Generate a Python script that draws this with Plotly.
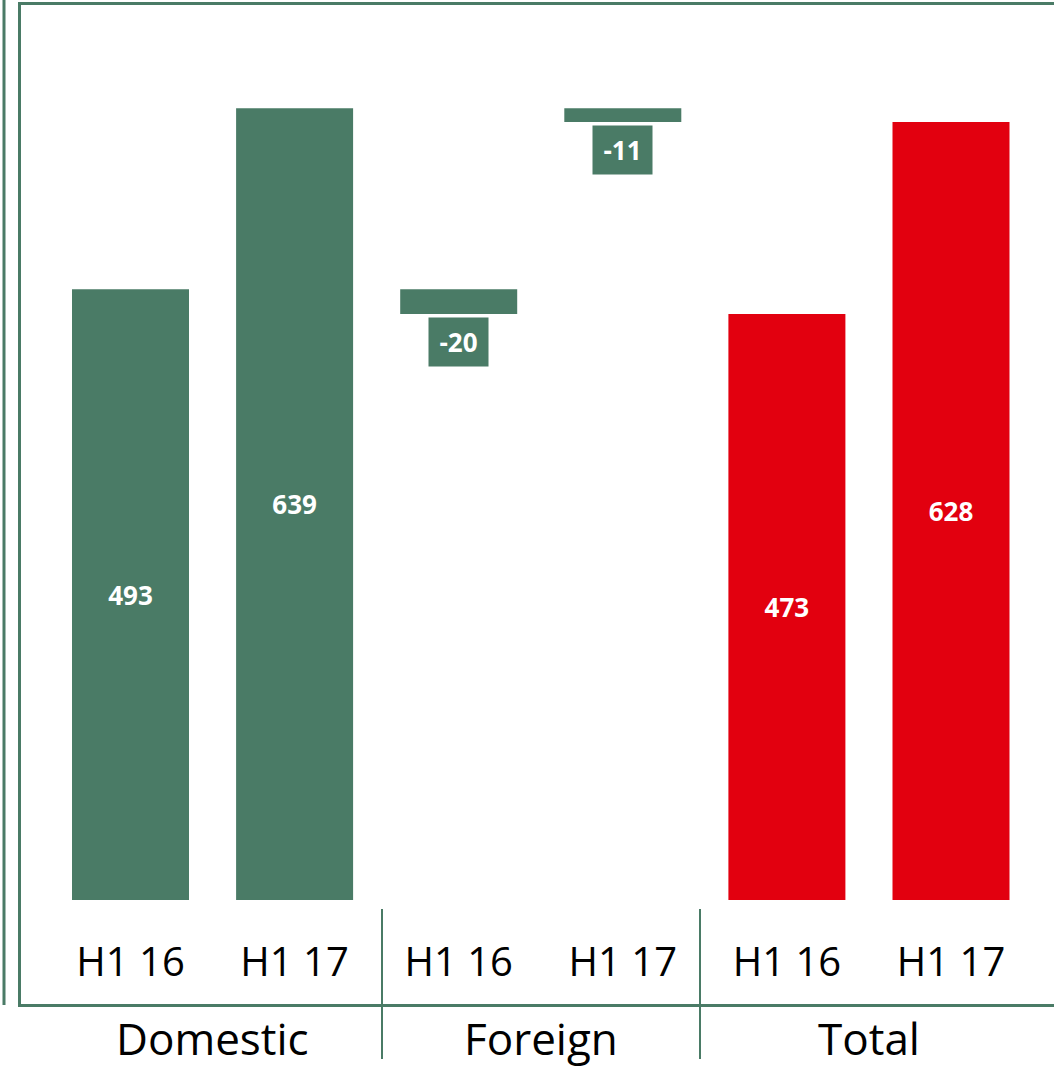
import plotly.graph_objects as go

# ---- data ----
groups = ["Domestic", "Foreign", "Total"]
periods = ["H1 16", "H1 17"]
domestic = [493, 639]
foreign = [-20, -11]
total = [473, 628]

GREEN = "#4A7B66"
RED = "#E2000F"
FONT = "Open Sans"

W, H = 1054, 1070
PLOT_BOTTOM = 900  # pixel row of the baseline

x_dom = [0, 1]
x_for = [2, 3]
x_tot = [4, 5]

fig = go.Figure()

fig.add_trace(go.Bar(
    x=x_dom, y=domestic, base=[0, 0], width=0.713,
    marker=dict(color=GREEN, line=dict(width=0)),
    text=[str(v) for v in domestic], textposition="inside",
    insidetextanchor="middle", constraintext="none",
    textfont=dict(family=FONT, size=26, color="white", weight="bold"),
    showlegend=False, hoverinfo="skip"))

fig.add_trace(go.Bar(
    x=x_for, y=foreign, base=domestic, width=0.713,
    marker=dict(color=GREEN, line=dict(width=0)),
    showlegend=False, hoverinfo="skip"))

fig.add_trace(go.Bar(
    x=x_tot, y=total, base=[0, 0], width=0.713,
    marker=dict(color=RED, line=dict(width=0)),
    text=[str(v) for v in total], textposition="inside",
    insidetextanchor="middle", constraintext="none",
    textfont=dict(family=FONT, size=26, color="white", weight="bold"),
    showlegend=False, hoverinfo="skip"))

annotations = []
for xi, d, f in zip(x_for, domestic, foreign):
    annotations.append(dict(
        x=xi, y=d + f, xref="x", yref="y", yanchor="top", xanchor="center",
        yshift=-3, text=f"<b>{f}</b>", showarrow=False,
        bgcolor=GREEN, width=51, height=40, borderpad=4,
        font=dict(family=FONT, size=26, color="white")))

def py(p):
    return (PLOT_BOTTOM - p) / PLOT_BOTTOM

for i, g in enumerate(groups):
    annotations.append(dict(
        x=2 * i + 0.5, y=py(1069), xref="x", yref="paper",
        xanchor="center", yanchor="bottom", text=g, showarrow=False,
        borderpad=0,
        font=dict(family=FONT, size=44, color="black")))

line = dict(color=GREEN, width=3)
shapes = [
    dict(type="line", xref="paper", yref="paper", x0=4 / W, x1=4 / W,
         y0=py(0), y1=py(1005), line=line),
    dict(type="rect", xref="paper", yref="paper", x0=19.5 / W, x1=1.02,
         y0=py(3.5), y1=py(1005.5), line=line, fillcolor="rgba(0,0,0,0)"),
    dict(type="line", xref="paper", yref="paper", x0=382 / W, x1=382 / W,
         y0=py(909), y1=py(1059), line=dict(color=GREEN, width=2)),
    dict(type="line", xref="paper", yref="paper", x0=700 / W, x1=700 / W,
         y0=py(909), y1=py(1059), line=dict(color=GREEN, width=2)),
]

x0 = -130.5 / 164.1
x1 = x0 + W / 164.1

fig.update_layout(
    width=W, height=H,
    margin=dict(l=0, r=0, t=0, b=H - PLOT_BOTTOM, pad=0),
    paper_bgcolor="white", plot_bgcolor="white",
    barmode="overlay",
    annotations=annotations, shapes=shapes,
    xaxis=dict(range=[x0, x1], tickvals=[0, 1, 2, 3, 4, 5],
               ticktext=periods * 3, showgrid=False, zeroline=False,
               showline=False, ticks="", ticklabelstandoff=35,
               tickfont=dict(family=FONT, size=40, color="black"),
               automargin=False, fixedrange=True),
    yaxis=dict(range=[0, PLOT_BOTTOM / 1.239], visible=False,
               showgrid=False, zeroline=False, automargin=False,
               fixedrange=True),
)

fig.write_html("out.html", config={"displayModeBar": False})
